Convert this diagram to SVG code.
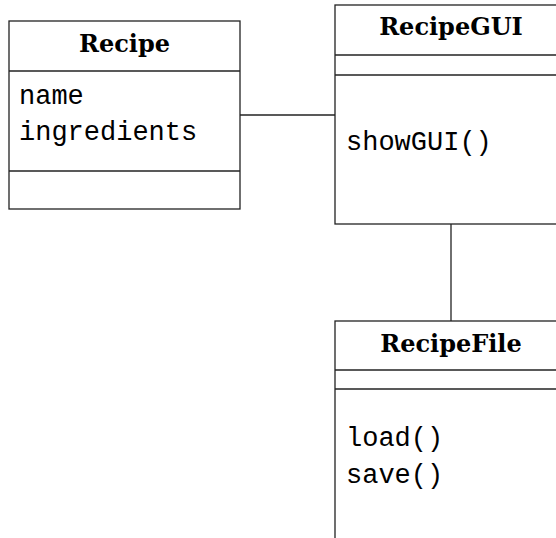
<svg xmlns="http://www.w3.org/2000/svg" width="556" height="538" viewBox="0 0 556 538">
<style>
.box{fill:#fff;stroke:#222;stroke-width:1.3}
.ln{stroke:#222;stroke-width:1.3;fill:none}
.title{font-family:"DejaVu Serif","Liberation Serif",serif;font-weight:bold;font-size:24px;text-anchor:middle;fill:#000}
.mono{font-family:"Liberation Mono","DejaVu Sans Mono",monospace;font-size:27px;fill:#000}
</style>
<rect width="556" height="538" fill="#fff"/>
<g id="connectors">
<line class="ln" x1="240" y1="115" x2="335" y2="115"/>
<line class="ln" x1="451" y1="224" x2="451" y2="321"/>
</g>
<g id="Recipe">
<rect class="box" x="9" y="21" width="231" height="188"/>
<line class="ln" x1="9" y1="71" x2="240" y2="71"/>
<line class="ln" x1="9" y1="171" x2="240" y2="171"/>
<text class="title" x="124.5" y="52">Recipe</text>
<text class="mono" x="19" y="104">name</text>
<text class="mono" x="19" y="140">ingredients</text>
</g>
<g id="RecipeGUI">
<rect class="box" x="335" y="5" width="232" height="219"/>
<line class="ln" x1="335" y1="55" x2="567" y2="55"/>
<line class="ln" x1="335" y1="75" x2="567" y2="75"/>
<text class="title" x="451" y="35">RecipeGUI</text>
<text class="mono" x="346" y="150">showGUI()</text>
</g>
<g id="RecipeFile">
<rect class="box" x="335" y="321" width="232" height="230"/>
<line class="ln" x1="335" y1="370" x2="567" y2="370"/>
<line class="ln" x1="335" y1="389" x2="567" y2="389"/>
<text class="title" x="451" y="352">RecipeFile</text>
<text class="mono" x="346" y="446">load()</text>
<text class="mono" x="346" y="483">save()</text>
</g>
</svg>
